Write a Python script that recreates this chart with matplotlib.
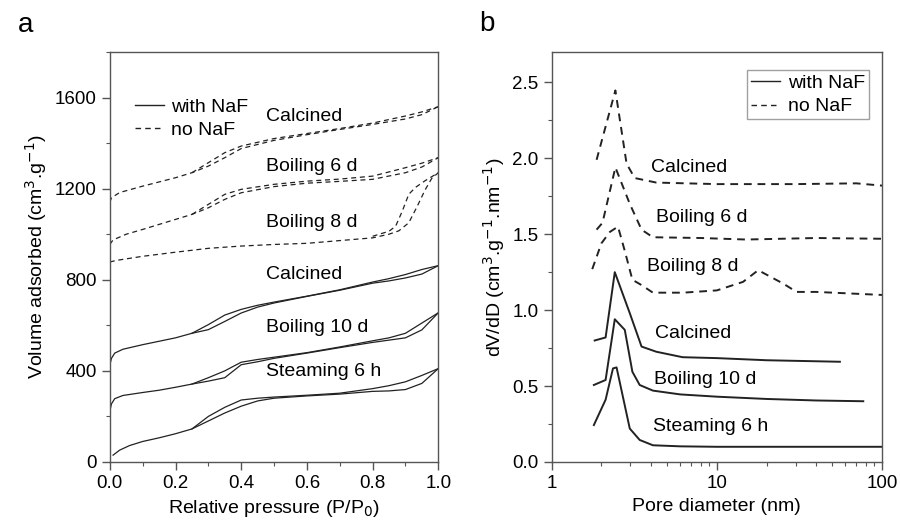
import numpy as np
import matplotlib
matplotlib.use('Agg')
import matplotlib.pyplot as plt
from matplotlib.ticker import MultipleLocator, LogLocator, NullFormatter
from matplotlib.lines import Line2D

plt.rcParams['font.family'] = ['Liberation Sans', 'DejaVu Sans']
plt.rcParams['font.size'] = 14

# ---- panel a: N2 isotherms (adsorption / desorption branches)
# with NaF
cal_ads_x = [0.0, 0.005, 0.015, 0.04, 0.1, 0.15, 0.2, 0.25, 0.3, 0.35, 0.4, 0.45, 0.5, 0.6, 0.7, 0.8, 0.85, 0.9, 0.95, 1.0]
cal_ads_y = [425, 455, 478, 495, 515, 530, 545, 565, 581, 617, 654, 680, 698, 727, 754, 785, 795, 808, 825, 862]
cal_des_x = [0.25, 0.3, 0.35, 0.4, 0.45, 0.5, 0.6, 0.7, 0.8, 0.85, 0.9, 0.95, 1.0]
cal_des_y = [565, 603, 645, 670, 688, 702, 728, 756, 790, 805, 823, 845, 862]

b10_ads_x = [0.0, 0.005, 0.015, 0.04, 0.1, 0.15, 0.2, 0.25, 0.3, 0.35, 0.4, 0.45, 0.5, 0.6, 0.7, 0.8, 0.85, 0.9, 0.95, 1.0]
b10_ads_y = [222, 255, 278, 292, 305, 315, 328, 342, 355, 370, 427, 440, 455, 478, 502, 525, 535, 545, 580, 655]
b10_des_x = [0.25, 0.3, 0.35, 0.4, 0.45, 0.5, 0.6, 0.7, 0.8, 0.85, 0.9, 0.95, 1.0]
b10_des_y = [342, 370, 400, 438, 450, 460, 480, 505, 532, 545, 565, 610, 655]

st_ads_x = [0.01, 0.03, 0.06, 0.1, 0.15, 0.2, 0.25, 0.3, 0.35, 0.4, 0.45, 0.5, 0.6, 0.7, 0.8, 0.85, 0.9, 0.95, 1.0]
st_ads_y = [30, 52, 72, 90, 106, 124, 145, 180, 215, 245, 268, 280, 290, 298, 310, 312, 318, 345, 410]
st_des_x = [0.25, 0.3, 0.35, 0.4, 0.45, 0.5, 0.6, 0.7, 0.8, 0.85, 0.9, 0.95, 1.0]
st_des_y = [145, 200, 240, 272, 280, 285, 293, 302, 322, 335, 352, 380, 410]

# no NaF
ncal_ads_x = [0.0, 0.005, 0.03, 0.1, 0.2, 0.25, 0.3, 0.35, 0.4, 0.5, 0.6, 0.7, 0.8, 0.9, 0.95, 1.0]
ncal_ads_y = [1140, 1160, 1183, 1211, 1248, 1270, 1299, 1336, 1376, 1412, 1437, 1460, 1482, 1506, 1525, 1560]
ncal_des_x = [0.25, 0.3, 0.35, 0.4, 0.5, 0.6, 0.7, 0.8, 0.9, 0.95, 1.0]
ncal_des_y = [1270, 1314, 1358, 1387, 1420, 1442, 1464, 1488, 1519, 1537, 1560]

nb6_ads_x = [0.0, 0.01, 0.05, 0.1, 0.2, 0.25, 0.3, 0.35, 0.4, 0.5, 0.6, 0.7, 0.8, 0.9, 0.95, 1.0]
nb6_ads_y = [955, 975, 1000, 1021, 1065, 1087, 1116, 1153, 1182, 1209, 1224, 1232, 1241, 1270, 1295, 1336]
nb6_des_x = [0.25, 0.3, 0.35, 0.4, 0.5, 0.6, 0.7, 0.8, 0.9, 0.95, 1.0]
nb6_des_y = [1087, 1131, 1175, 1197, 1219, 1233, 1242, 1255, 1292, 1312, 1336]

nb8_ads_x = [0.0, 0.02, 0.1, 0.2, 0.3, 0.4, 0.5, 0.6, 0.7, 0.8, 0.85, 0.88, 0.91, 0.935, 0.96, 0.98, 1.0]
nb8_ads_y = [878, 885, 903, 921, 938, 948, 955, 960, 972, 984, 1000, 1015, 1050, 1120, 1195, 1245, 1270]
nb8_des_x = [0.8, 0.85, 0.87, 0.89, 0.91, 0.93, 0.96, 1.0]
nb8_des_y = [991, 1013, 1035, 1100, 1175, 1205, 1235, 1270]

# ---- panel b: pore size distributions
st_d = [1.80, 2.12, 2.35, 2.47, 2.97, 3.41, 4.1, 6, 10, 20, 50, 100]
st_v = [0.243, 0.41, 0.616, 0.623, 0.22, 0.145, 0.11, 0.103, 0.1, 0.1, 0.1, 0.1]
b10_d = [1.8, 2.12, 2.41, 2.77, 3.08, 3.41, 4.1, 6, 10, 20, 40, 77]
b10_v = [0.507, 0.54, 0.94, 0.87, 0.594, 0.507, 0.47, 0.445, 0.43, 0.415, 0.405, 0.40]
cal_d = [1.82, 2.12, 2.41, 2.97, 3.5, 4.3, 6.2, 10, 20, 55.6]
cal_v = [0.80, 0.82, 1.25, 0.98, 0.76, 0.726, 0.69, 0.684, 0.67, 0.66]
ncal_d = [1.87, 2.43, 2.84, 3.18, 4.3, 10, 30, 70, 100]
ncal_v = [1.99, 2.447, 1.965, 1.87, 1.84, 1.83, 1.83, 1.835, 1.82]
nb6_d = [1.87, 2.03, 2.43, 2.97, 3.5, 4.1, 8, 15, 40, 100]
nb6_v = [1.53, 1.575, 1.94, 1.70, 1.53, 1.48, 1.475, 1.465, 1.475, 1.47]
nb8_d = [1.76, 2.0, 2.25, 2.52, 2.77, 3.08, 3.5, 4.1, 6.25, 10, 14.4, 17.8, 25.2, 30.4, 40, 100]
nb8_v = [1.27, 1.44, 1.515, 1.55, 1.39, 1.20, 1.165, 1.115, 1.115, 1.13, 1.186, 1.263, 1.175, 1.12, 1.12, 1.10]

labels_a = ['Calcined', 'Boiling 6 d', 'Boiling 8 d', 'Calcined', 'Boiling 10 d', 'Steaming 6 h']
labels_a_y = [1518, 1298, 1052, 823, 590, 396]
labels_b = ['Calcined', 'Boiling 6 d', 'Boiling 8 d', 'Calcined', 'Boiling 10 d', 'Steaming 6 h']
labels_b_x = [4.02, 4.3, 3.75, 4.2, 4.15, 4.1]
labels_b_y = [1.94, 1.61, 1.285, 0.847, 0.54, 0.232]

col = '#222222'
dash = (0, (4, 3))

fig = plt.figure(figsize=(9, 5.29), dpi=100)
ax1 = fig.add_axes([0.122, 0.1267, 0.365, 0.775])
ax2 = fig.add_axes([0.613, 0.1267, 0.367, 0.775])

for xs, ys in [(cal_ads_x, cal_ads_y), (cal_des_x, cal_des_y), (b10_ads_x, b10_ads_y),
               (b10_des_x, b10_des_y), (st_ads_x, st_ads_y), (st_des_x, st_des_y)]:
    ax1.plot(xs, ys, color=col, lw=0.9)
for xs, ys in [(ncal_ads_x, ncal_ads_y), (ncal_des_x, ncal_des_y), (nb6_ads_x, nb6_ads_y),
               (nb6_des_x, nb6_des_y), (nb8_ads_x, nb8_ads_y), (nb8_des_x, nb8_des_y)]:
    ax1.plot(xs, ys, color=col, lw=0.9, ls=dash)

for t, y in zip(labels_a, labels_a_y):
    ax1.text(0.475, y, t, fontsize=14, va='center', ha='left')

ax1.set_xlim(0, 1.0)
ax1.set_ylim(0, 1800)
ax1.xaxis.set_major_locator(MultipleLocator(0.2))
ax1.xaxis.set_minor_locator(MultipleLocator(0.1))
ax1.yaxis.set_major_locator(MultipleLocator(400))
ax1.yaxis.set_minor_locator(MultipleLocator(200))
ax1.xaxis.set_major_formatter(plt.FuncFormatter(lambda v, p: '%.1f' % v))
ax1.set_xlabel('Relative pressure (P/P$_0$)', fontsize=14)
ax1.set_ylabel('Volume adsorbed (cm$^3$.g$^{-1}$)', fontsize=14)
h = [Line2D([], [], color=col, lw=1.0), Line2D([], [], color=col, lw=1.0, ls=dash)]
ax1.legend(h, ['with NaF', 'no NaF'], loc='upper left', bbox_to_anchor=(0.04, 0.915),
           frameon=False, fontsize=14, handlelength=1.5, handletextpad=0.35,
           labelspacing=0.25, borderpad=0.1)

ax2.plot(st_d, st_v, color=col, lw=1.4)
ax2.plot(b10_d, b10_v, color=col, lw=1.4)
ax2.plot(cal_d, cal_v, color=col, lw=1.4)
ax2.plot(ncal_d, ncal_v, color=col, lw=1.4, ls=dash)
ax2.plot(nb6_d, nb6_v, color=col, lw=1.4, ls=dash)
ax2.plot(nb8_d, nb8_v, color=col, lw=1.4, ls=dash)
for t, x, y in zip(labels_b, labels_b_x, labels_b_y):
    ax2.text(x, y, t, fontsize=14, va='center', ha='left')

ax2.set_xscale('log')
ax2.set_xlim(1, 100)
ax2.set_ylim(0, 2.7)
ax2.yaxis.set_major_locator(MultipleLocator(0.5))
ax2.yaxis.set_minor_locator(MultipleLocator(0.25))
ax2.xaxis.set_minor_locator(LogLocator(base=10, subs=np.arange(2, 10)))
ax2.xaxis.set_minor_formatter(NullFormatter())
ax2.xaxis.set_major_formatter(plt.FuncFormatter(lambda v, p: '%d' % v))
ax2.yaxis.set_major_formatter(plt.FuncFormatter(lambda v, p: '%.1f' % v))
ax2.set_xlabel('Pore diameter (nm)', fontsize=14)
ax2.set_ylabel('dV/dD (cm$^3$.g$^{-1}$.nm$^{-1}$)', fontsize=14)
leg = ax2.legend(h, ['with NaF', 'no NaF'], loc='upper right', bbox_to_anchor=(0.96, 0.955),
                 frameon=True, fancybox=False, fontsize=14, handlelength=1.5,
                 handletextpad=0.4, labelspacing=0.3, borderpad=0.2, borderaxespad=0)
leg.get_frame().set_edgecolor('#888888')
leg.get_frame().set_linewidth(1.0)

for ax in (ax1, ax2):
    for s in ax.spines.values():
        s.set_color('#555555')
        s.set_linewidth(1.0)
    ax.tick_params(which='major', direction='out', length=6, width=1.0, color='#555555',
                   labelsize=13.5, top=False, right=False)
    ax.tick_params(which='minor', direction='out', length=3, width=0.8, color='#555555',
                   top=False, right=False)

fig.text(0.028, 0.953, 'a', fontsize=20, ha='center', va='center')
fig.text(0.541, 0.955, 'b', fontsize=20, ha='center', va='center')

fig.savefig('out.png', dpi=100)
